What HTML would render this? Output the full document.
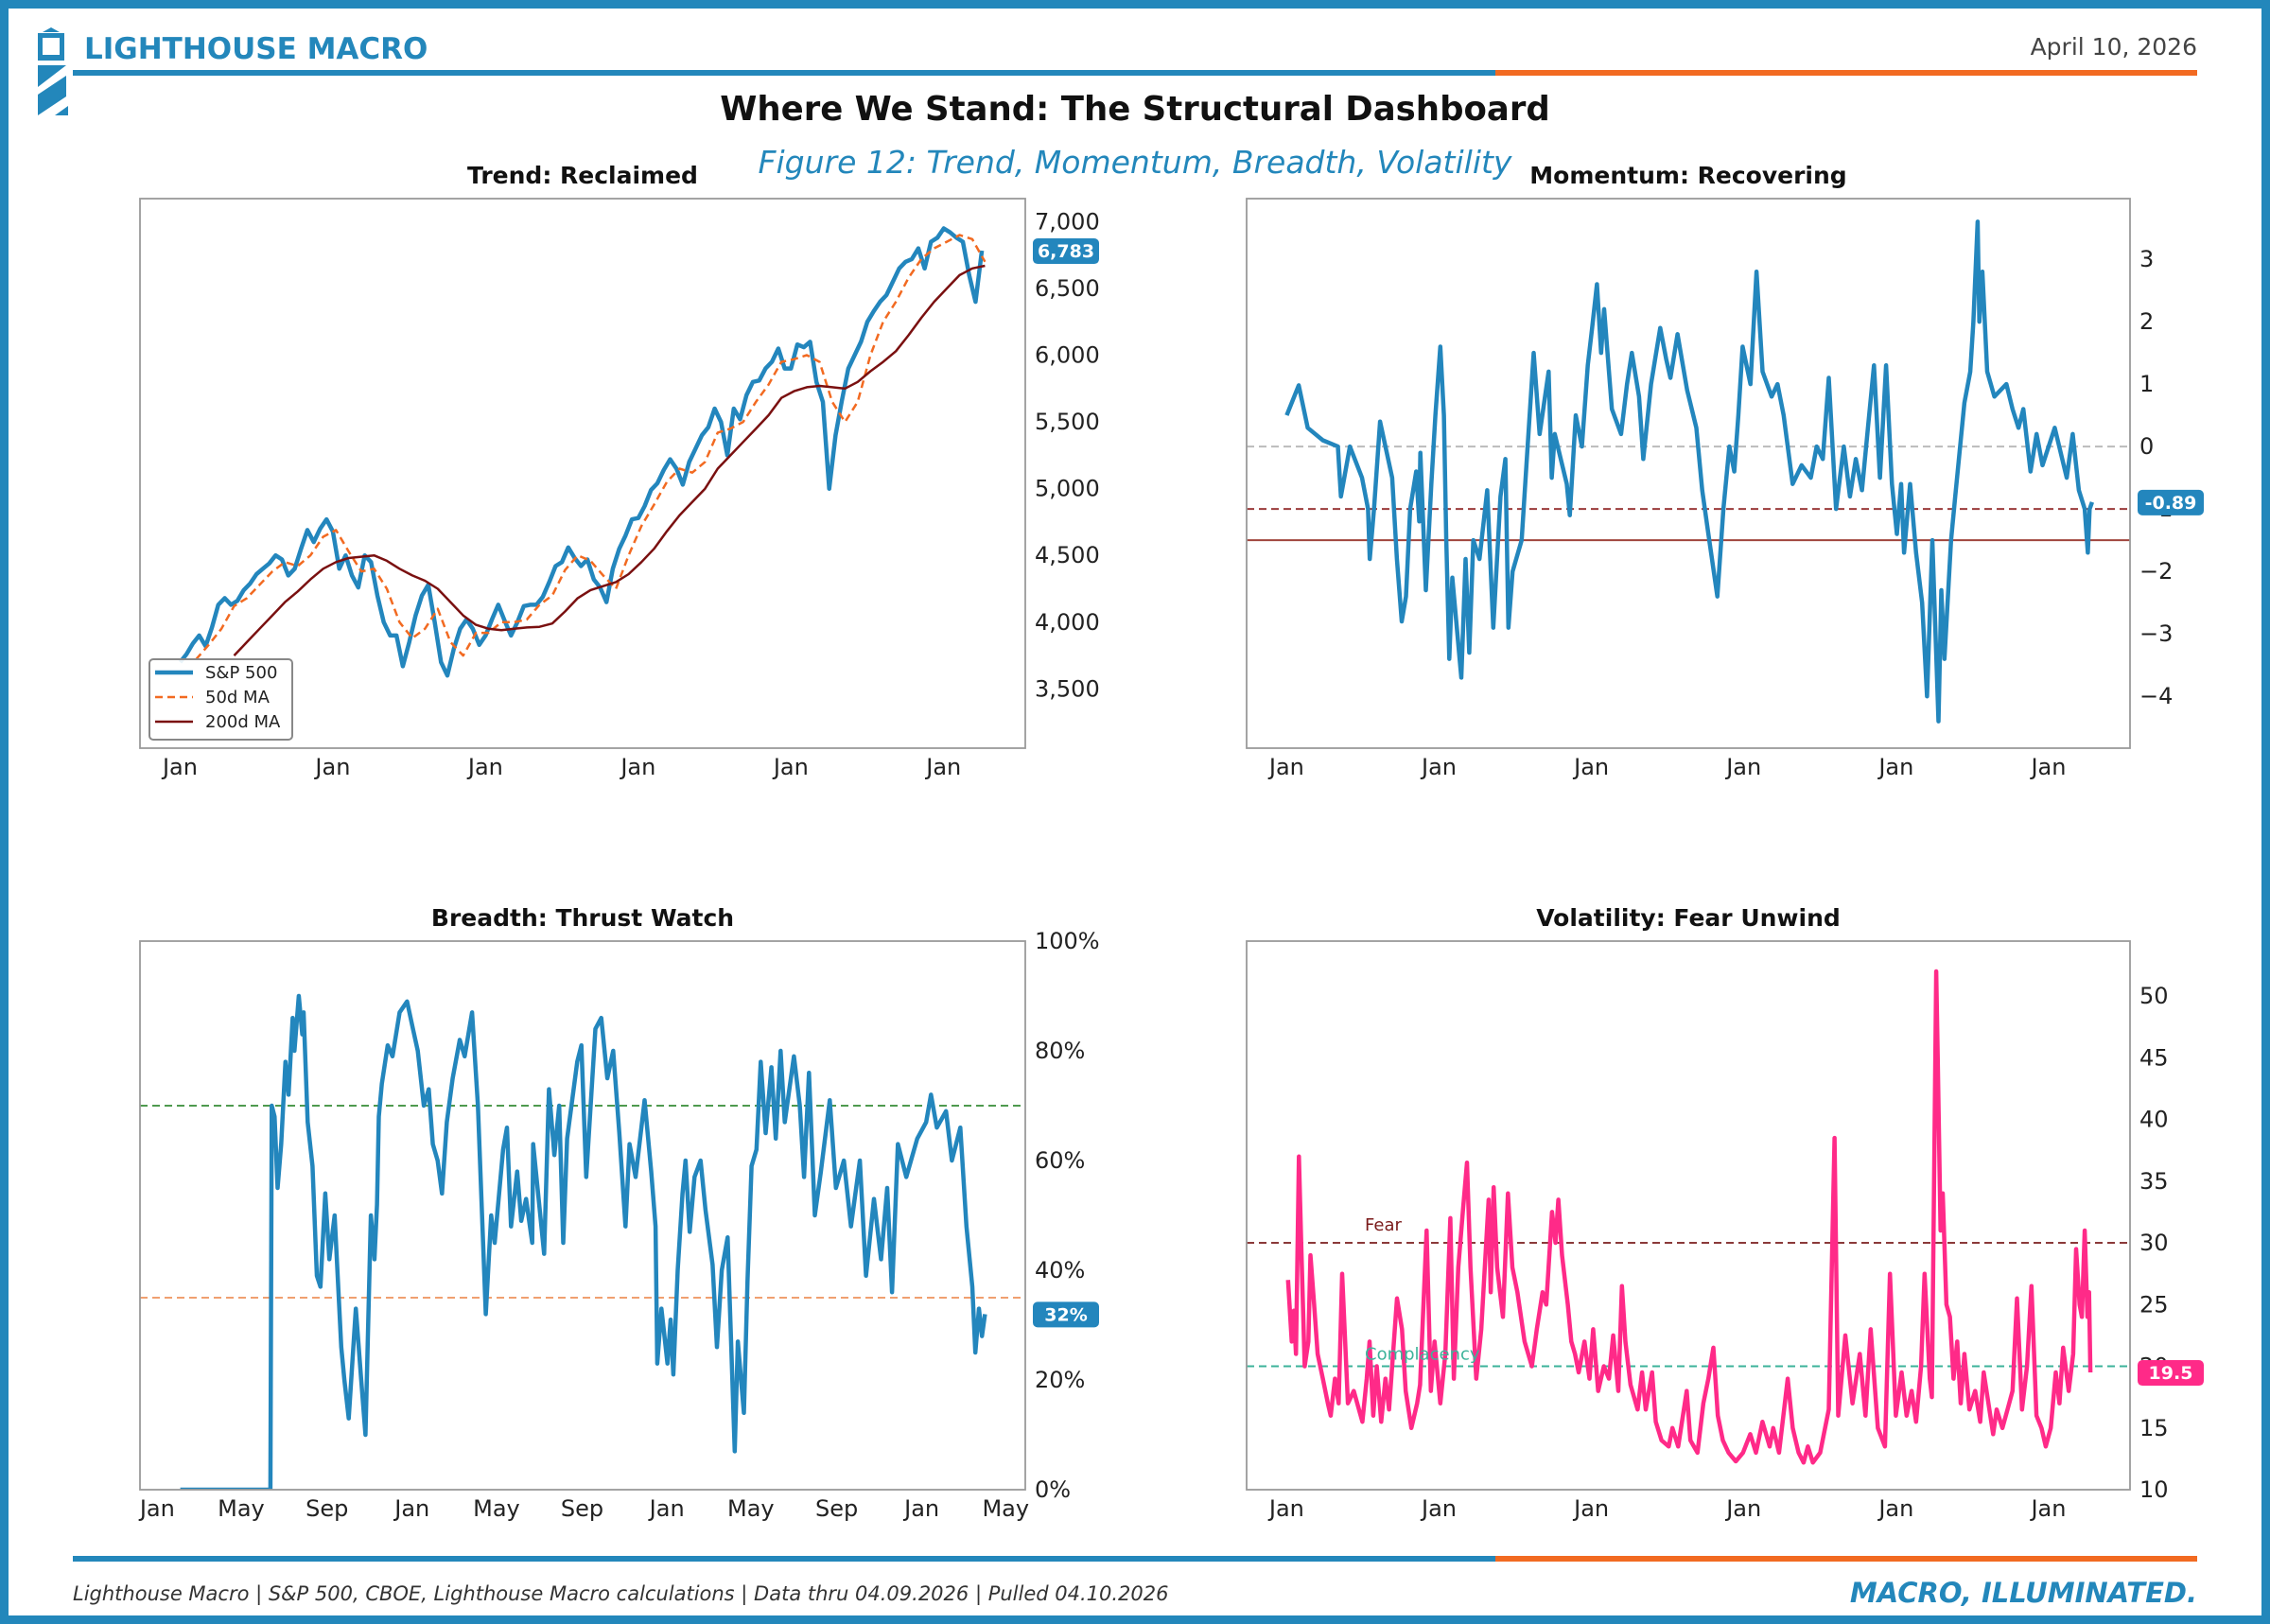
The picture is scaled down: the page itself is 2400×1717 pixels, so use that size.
<!DOCTYPE html>
<html><head><meta charset="utf-8"><style>
html,body{margin:0;padding:0;background:#fff;}
svg{display:block;font-family:"DejaVu Sans","Liberation Sans",sans-serif;}
</style></head><body>
<svg id="chart" width="2400" height="1717" viewBox="0 0 2400 1717" xmlns="http://www.w3.org/2000/svg">
<rect x="4.5" y="4.5" width="2391" height="1708" fill="#fff" stroke="#2387bb" stroke-width="9"/>
<g fill="#2387bb">
<polygon points="45,34 54,29 63,34"/><rect x="40" y="35" width="28" height="5"/>
<rect x="40" y="40" width="5" height="20"/><rect x="63" y="40" width="5" height="20"/><rect x="40" y="58" width="28" height="6"/>
<polygon points="40,69 70,69 40,92"/><polygon points="40,100 70,80 70,102 40,122 40,110"/><polygon points="58,122 72,112 72,122"/>
</g>
<text x="89" y="62" font-size="31" font-weight="bold" fill="#2387bb">LIGHTHOUSE MACRO</text>
<text x="2323" y="58" font-size="25" fill="#444" text-anchor="end">April 10, 2026</text>
<rect x="77" y="74" width="1504" height="6" fill="#2387bb"/>
<rect x="1581" y="74" width="742" height="6" fill="#f26a21"/>
<text x="1200" y="127" font-size="35.5" font-weight="bold" fill="#111" text-anchor="middle">Where We Stand: The Structural Dashboard</text>
<text x="1200" y="183" font-size="33" font-style="italic" fill="#2387bb" text-anchor="middle">Figure 12: Trend, Momentum, Breadth, Volatility</text>
<rect x="77" y="1645" width="1504" height="6" fill="#2387bb"/>
<rect x="1581" y="1645" width="742" height="6" fill="#f26a21"/>
<text x="77" y="1692" font-size="21" font-style="italic" fill="#333">Lighthouse Macro | S&amp;P 500, CBOE, Lighthouse Macro calculations | Data thru 04.09.2026 | Pulled 04.10.2026</text>
<text x="2323" y="1694" font-size="29" font-weight="bold" font-style="italic" fill="#2387bb" text-anchor="end">MACRO, ILLUMINATED.</text>
<g id="panels"></g>
</svg>
<script>
// ---------- Trend data ----------
const spStart = 2021.0;
const spStep = 1/24;
const spValues = [3700,3760,3840,3900,3820,3960,4130,4180,4130,4160,4240,4290,4360,4400,4440,4500,4470,4350,4400,4550,4690,4600,4700,4770,
4680,4400,4500,4350,4260,4500,4450,4200,4000,3900,3900,3670,3850,4050,4200,4280,4000,3700,3600,3800,3950,4020,3950,3830,
3900,4020,4130,4010,3900,4000,4120,4130,4130,4190,4300,4420,4450,4560,4480,4420,4470,4320,4260,4150,4400,4550,4650,4770,
4780,4870,4990,5040,5140,5220,5150,5030,5200,5300,5400,5460,5600,5500,5250,5600,5520,5700,5800,5810,5900,5950,6050,5900,
5900,6080,6060,6100,5800,5650,5000,5400,5660,5900,6000,6100,6250,6330,6400,6450,6550,6650,6700,6720,6800,6650,6850,6880,
6950,6920,6880,6850,6600,6400,6783];
const maStart = 2021.02;
const maStep = 1/12;
const ma50Values = [null,3720,3830,3950,4120,4180,4280,4380,4450,4420,4500,4640,
4690,4530,4380,4400,4250,4000,3880,3950,4100,3850,3750,3920,
3920,4000,4000,4020,4130,4200,4390,4500,4460,4350,4250,4500,
4720,4880,5050,5150,5120,5200,5420,5450,5500,5650,5780,5950,
5970,6000,5950,5650,5500,5650,6000,6250,6400,6580,6720,6800,
6850,6900,6870,6700];
const ma200Values = [null,null,null,null,3750,3850,3950,4050,4150,4230,4320,4400,
4450,4480,4490,4500,4460,4400,4350,4310,4250,4150,4050,3980,
3950,3940,3950,3960,3965,3990,4080,4180,4240,4270,4300,4360,
4450,4550,4680,4800,4900,5000,5150,5250,5350,5450,5550,5680,
5730,5760,5770,5760,5750,5800,5880,5950,6030,6150,6280,6400,
6500,6600,6650,6670];
const trendTicks = [3500,4000,4500,5000,5500,6000,6500,7000];
const trendTickLabels = ["3,500","4,000","4,500","5,000","5,500","6,000","6,500","7,000"];

// ---------- Momentum data ----------
const momDates = [2021.000,2021.079,2021.138,2021.237,2021.336,2021.356,2021.415,2021.494,2021.534,2021.545,2021.573,2021.613,2021.692,2021.723,2021.755,2021.783,2021.810,2021.850,2021.870,2021.877,2021.913,2021.949,2021.976,
2022.008,2022.032,2022.047,2022.067,2022.087,2022.146,2022.174,2022.198,2022.225,2022.265,2022.316,2022.356,2022.403,2022.435,2022.455,2022.482,2022.542,2022.581,2022.621,2022.660,2022.719,2022.739,2022.759,2022.838,2022.858,2022.897,2022.937,2022.976,
2023.004,2023.036,2023.063,2023.083,2023.115,2023.134,2023.194,2023.233,2023.265,2023.312,2023.340,2023.391,2023.451,2023.490,2023.518,2023.565,2023.628,2023.688,2023.727,2023.767,2023.826,2023.866,2023.905,2023.937,2023.964,2023.992,
2024.043,2024.083,2024.123,2024.182,2024.221,2024.261,2024.320,2024.379,2024.439,2024.478,2024.518,2024.557,2024.605,2024.656,2024.696,2024.735,2024.775,2024.814,2024.854,2024.893,2024.933,2024.972,
2025.004,2025.032,2025.051,2025.091,2025.130,2025.170,2025.202,2025.237,2025.277,2025.296,2025.316,2025.360,2025.387,2025.447,2025.486,2025.506,2025.534,2025.545,2025.565,2025.597,2025.644,2025.723,2025.763,2025.802,2025.834,2025.881,2025.921,2025.960,
2026.040,2026.119,2026.158,2026.198,2026.237,2026.257,2026.269,2026.285];
const momValues = [0.5,0.98,0.3,0.1,0.0,-0.8,0.0,-0.5,-1.0,-1.8,-1.0,0.4,-0.5,-1.8,-2.8,-2.4,-1.0,-0.4,-1.2,-0.1,-2.3,-0.6,0.5,
1.6,0.5,-1.5,-3.4,-2.1,-3.7,-1.8,-3.3,-1.5,-1.8,-0.7,-2.9,-0.8,-0.2,-2.9,-2.0,-1.5,0.0,1.5,0.2,1.2,-0.5,0.2,-0.6,-1.1,0.5,0.0,1.3,
1.9,2.6,1.5,2.2,1.2,0.6,0.2,1.0,1.5,0.8,-0.2,1.0,1.9,1.4,1.1,1.8,0.9,0.3,-0.7,-1.4,-2.4,-1.0,0.0,-0.4,0.5,1.6,
1.0,2.8,1.2,0.8,1.0,0.5,-0.6,-0.3,-0.5,0.0,-0.2,1.1,-1.0,0.0,-0.8,-0.2,-0.7,0.3,1.3,-0.5,1.3,-0.6,
-1.4,-0.6,-1.7,-0.6,-1.7,-2.5,-4.0,-1.5,-4.4,-2.3,-3.4,-1.5,-0.8,0.7,1.2,2.0,3.6,2.0,2.8,1.2,0.8,1.0,0.6,0.3,0.6,-0.4,0.2,-0.3,
0.3,-0.5,0.2,-0.7,-1.0,-1.7,-1.0,-0.89];
const momTicks = [-4,-3,-2,-1,0,1,2,3];
const momTickLabels = ["\u22124","\u22123","\u22122","\u22121","0","1","2","3"];

// ---------- Breadth data ----------
const brDates = [2023.090,2023.444,2023.449,2023.460,2023.472,2023.486,2023.503,2023.515,2023.531,2023.538,2023.555,2023.569,2023.574,2023.590,2023.609,2023.626,2023.640,2023.659,2023.675,2023.696,2023.722,2023.734,2023.751,2023.779,2023.800,2023.817,2023.838,2023.852,2023.862,2023.869,2023.881,2023.904,2023.923,2023.951,2023.980,
2024.003,2024.022,2024.046,2024.065,2024.081,2024.100,2024.117,2024.136,2024.159,2024.187,2024.206,2024.235,2024.258,2024.289,2024.310,2024.324,2024.357,2024.372,2024.388,2024.412,2024.428,2024.447,2024.471,2024.475,2024.518,2024.537,2024.558,2024.577,2024.593,2024.608,2024.648,2024.664,2024.683,2024.719,2024.742,2024.766,2024.789,2024.813,2024.837,2024.853,2024.877,2024.912,2024.938,2024.955,2024.962,2024.978,
2025.002,2025.014,2025.025,2025.042,2025.061,2025.073,2025.089,2025.108,2025.132,2025.151,2025.179,2025.196,2025.215,2025.238,2025.266,2025.278,2025.302,2025.316,2025.332,2025.351,2025.368,2025.387,2025.410,2025.427,2025.446,2025.462,2025.498,2025.521,2025.538,2025.557,2025.580,2025.604,2025.639,2025.663,2025.694,2025.722,2025.757,2025.781,2025.812,2025.840,2025.864,2025.883,2025.906,2025.939,2025.982,
2026.017,2026.036,2026.059,2026.095,2026.118,2026.151,2026.175,2026.198,2026.210,2026.224,2026.236,2026.248];
const brValues = [0,0,70,68,55,63,78,72,86,80,90,83,87,67,59,39,37,54,42,50,26,20,13,33,20,10,50,42,52,68,74,81,79,87,89,
84,80,70,73,63,60,54,67,75,82,79,87,70,32,50,45,62,66,48,58,49,53,45,63,43,73,61,70,45,64,78,81,57,84,86,75,80,65,48,63,57,71,58,48,23,33,
23,31,21,40,54,60,47,57,60,51,41,26,40,46,7,27,14,38,59,62,78,65,77,64,80,67,79,70,57,76,50,58,71,55,60,48,60,39,53,42,55,36,63,57,64,
67,72,66,69,60,66,48,37,25,33,28,32];
const brTicks = [0,20,40,60,80,100];
const brTickLabels = ["0%","20%","40%","60%","80%","100%"];
const brXTicks = [2023.0,2023.329,2023.666,2024.0,2024.331,2024.667,2025.0,2025.329,2025.666,2026.0,2026.329];
const brXTickLabels = ["Jan","May","Sep","Jan","May","Sep","Jan","May","Sep","Jan","May"];

// ---------- Volatility data ----------
const vixDates = [2021.009,2021.033,2021.047,2021.061,2021.080,2021.095,2021.118,2021.142,2021.156,2021.180,2021.203,2021.237,2021.270,2021.289,2021.317,2021.341,2021.364,2021.402,2021.440,2021.497,2021.525,2021.544,2021.568,2021.591,2021.620,2021.648,2021.672,2021.724,2021.757,2021.781,2021.818,2021.856,2021.875,2021.918,2021.946,2021.970,
2022.008,2022.041,2022.074,2022.097,2022.126,2022.159,2022.183,2022.206,2022.244,2022.277,2022.325,2022.339,2022.358,2022.381,2022.419,2022.452,2022.481,2022.514,2022.561,2022.609,2022.641,2022.679,2022.703,2022.741,2022.764,2022.783,2022.807,2022.845,2022.868,2022.892,2022.916,2022.954,2022.987,
2023.011,2023.044,2023.081,2023.115,2023.143,2023.176,2023.200,2023.223,2023.256,2023.303,2023.332,2023.356,2023.398,2023.422,2023.460,2023.507,2023.531,2023.569,2023.625,2023.649,2023.696,2023.734,2023.767,2023.800,2023.829,2023.862,2023.900,2023.947,2023.994,
2024.042,2024.079,2024.122,2024.169,2024.193,2024.231,2024.288,2024.321,2024.359,2024.392,2024.420,2024.453,2024.501,2024.557,2024.595,2024.619,2024.666,2024.713,2024.761,2024.798,2024.832,2024.879,2024.926,2024.959,2024.997,
2025.035,2025.068,2025.101,2025.130,2025.163,2025.186,2025.220,2025.234,2025.262,2025.272,2025.291,2025.305,2025.329,2025.352,2025.376,2025.400,2025.423,2025.447,2025.480,2025.518,2025.551,2025.574,2025.636,2025.659,2025.697,2025.730,2025.763,2025.792,2025.825,2025.858,2025.887,2025.920,2025.953,2025.981,
2026.014,2026.047,2026.071,2026.095,2026.132,2026.161,2026.180,2026.203,2026.218,2026.237,2026.255,2026.265,2026.274];
const vixValues = [27,22,24.5,21,37,30,20,22,29,25,21,19,17,16,19,17,27.5,17,18,15.5,19,22,16,20,15.5,19,16.5,25.5,23,18,15,17,18.5,31,18,22,
17,21,32,19,28,33,36.5,28,19,23,33.5,26,34.5,28,24,34,28,26,22,20,23,26,25,32.5,30,33.5,29,25,22,21,19.5,22,19,
23,18,20,19,22.5,18,26.5,22,18.5,16.5,19.5,16.5,19.5,15.5,14,13.5,15,13.5,18,14,13,17,19,21.5,16,14,13,12.3,13,
14.5,13,15.5,13.5,15,13,19,15,13,12.2,13.5,12.2,13,16.5,38.5,16,22.5,17,21,16,23,15,13.5,27.5,16,
19.5,16,18,15.5,20,27.5,19,17.5,52,45,31,34,25,24,19,22,17,21,16.5,18,15.5,19.5,14.5,16.5,15,16.5,18,25.5,16.5,20,26.5,16,15,13.5,
15,19.5,17,21.5,18,21,29.5,25,24,31,24,26,19.5];
const vixTicks = [10,15,20,25,30,35,40,45,50];
const vixTickLabels = ["10","15","20","25","30","35","40","45","50"];

// shared x ticks for 5-year panels
const yearTicks = [2021,2022,2023,2024,2025,2026];
const yearTickLabels = ["Jan","Jan","Jan","Jan","Jan","Jan"];

const NS = "http://www.w3.org/2000/svg";
const root = document.getElementById("panels");
function mk(tag, attrs, parent){
  const el = document.createElementNS(NS, tag);
  for (const k in attrs) el.setAttribute(k, attrs[k]);
  (parent||root).appendChild(el);
  return el;
}
function scale(d0,d1,r0,r1){return v => r0 + (v-d0)/(d1-d0)*(r1-r0);}

function panel(cfg){
  const g = mk("g", {});
  
  
  const x = scale(cfg.xd[0], cfg.xd[1], cfg.L, cfg.R);
  const y = scale(cfg.yd[0], cfg.yd[1], cfg.B, cfg.T);
  const t = mk("text", {x:(cfg.L+cfg.R)/2, y:cfg.T-16, "font-size":25, "font-weight":"bold", "text-anchor":"middle", fill:"#111"}, g);
  t.textContent = cfg.title;
  
  
  const clipId = cfg.name + "-clip";
  const cp = mk("clipPath", {id:clipId}, g);
  mk("rect", {x:cfg.L, y:cfg.T, width:cfg.R-cfg.L, height:cfg.B-cfg.T}, cp);
  const plot = mk("g", {"clip-path":"url(#"+clipId+")"}, g);
  (cfg.refs||[]).forEach(r => {
    const ln = mk("line", {x1:cfg.L, x2:cfg.R, y1:y(r.v), y2:y(r.v), stroke:r.c, "stroke-width":r.w||2, "stroke-dasharray":r.dash||"none"}, plot);
    
    
  });
  cfg.series.forEach(s => {
    let d = "", pen = false;
    for (let i=0;i<s.vals.length;i++){
      const v = s.vals[i];
      if (v===null){pen=false;continue;}
      const px = x(s.date(i)), py = y(v);
      d += (pen?"L":"M") + px.toFixed(1) + " " + py.toFixed(1);
      pen = true;
    }
    const p = mk("path", {d:d, fill:"none", stroke:s.c, "stroke-width":s.w, "stroke-dasharray":s.dash||"none", "stroke-linejoin":"round"}, plot);
    
    
  });
  const fr = mk("rect", {x:cfg.L, y:cfg.T, width:cfg.R-cfg.L, height:cfg.B-cfg.T, fill:"none", stroke:"#9a9a9a", "stroke-width":1.8}, g);
  
  
  cfg.yt.forEach((v,i) => {
    const tl = mk("text", {x:cfg.R+10, y:y(v)+8, "font-size":24, fill:"#222"}, g);
    tl.textContent = cfg.ytl[i];
    
    
  });
  cfg.xt.forEach((v,i) => {
    const tl = mk("text", {x:x(v), y:cfg.B+28, "font-size":24, fill:"#222", "text-anchor":"middle"}, g);
    tl.textContent = cfg.xtl[i];
    
    
  });
  if (cfg.badge){
    const by = y(cfg.badge.v);
    const br = mk("rect", {x:cfg.R+8, y:by-13, width:70, height:27, rx:5, fill:cfg.badge.c}, g);
    
    
    const bt = mk("text", {x:cfg.R+43, y:by+7, "font-size":19, "font-weight":"bold", fill:"#fff", "text-anchor":"middle"}, g);
    bt.textContent = cfg.badge.t;
    
    
  }
  return {g, x, y};
}

const fiveYr = [2020.737, 2026.534];
const BLUE = "#2386bd";

// Trend
const p1 = panel({name:"trend-panel", title:"Trend: Reclaimed", L:148, R:1084, T:210, B:791, xd:fiveYr, yd:[3056,7173],
  yt:trendTicks, ytl:trendTickLabels, xt:yearTicks, xtl:yearTickLabels,
  series:[
    {name:"sp500-line", vals:spValues, date:i=>spStart+i*spStep, c:BLUE, w:4.5},
    {name:"ma50-line", vals:ma50Values, date:i=>maStart+i*maStep, c:"#f26a21", w:2.5, dash:"8 5"},
    {name:"ma200-line", vals:ma200Values, date:i=>maStart+i*maStep, c:"#7a1010", w:2.5}
  ],
  badge:{v:spValues[spValues.length-1], t:"6,783", c:BLUE}});
// legend
const lg = mk("g", {});


mk("rect", {x:158, y:697, width:151, height:85, rx:4, fill:"#fff", "fill-opacity":0.9, stroke:"#888", "stroke-width":2}, lg);
[["S&P 500",BLUE,4.5,"none"],["50d MA","#f26a21",2.5,"8 5"],["200d MA","#7a1010",2.5,"none"]].forEach((e,i)=>{
  const yy = 711 + i*26;
  const l = mk("line", {x1:164, x2:204, y1:yy, y2:yy, stroke:e[1], "stroke-width":e[2], "stroke-dasharray":e[3]}, lg);
  
  
  const tx = mk("text", {x:217, y:yy+6, "font-size":18, fill:"#222"}, lg);
  tx.textContent = e[0];
  
  
});

// Momentum
panel({name:"momentum-panel", title:"Momentum: Recovering", L:1318, R:2252, T:210, B:791, xd:fiveYr, yd:[-4.83,3.97],
  yt:momTicks, ytl:momTickLabels, xt:yearTicks, xtl:yearTickLabels,
  refs:[{name:"zero-line", v:0, c:"#bbbbbb", dash:"8 5"},{name:"weak-threshold", v:-1, c:"#9b3b3b", dash:"8 5"},{name:"oversold-line", v:-1.5, c:"#a0443c", w:2}],
  series:[{name:"momentum-line", vals:momValues, date:i=>momDates[i], c:BLUE, w:4.5}],
  badge:{v:momValues[momValues.length-1], t:"-0.89", c:BLUE}});

// Breadth
panel({name:"breadth-panel", title:"Breadth: Thrust Watch", L:148, R:1084, T:995, B:1575, xd:[2022.932,2026.406], yd:[0,100],
  yt:brTicks, ytl:brTickLabels, xt:brXTicks, xtl:brXTickLabels,
  refs:[{name:"thrust-line", v:70, c:"#4f9a4f", dash:"8 5"},{name:"washout-line", v:35, c:"#f0a070", dash:"8 5"}],
  series:[{name:"breadth-line", vals:brValues, date:i=>brDates[i], c:BLUE, w:4.5}],
  badge:{v:brValues[brValues.length-1], t:"32%", c:BLUE}});

// Volatility
const p4 = panel({name:"volatility-panel", title:"Volatility: Fear Unwind", L:1318, R:2252, T:995, B:1575, xd:fiveYr, yd:[10,54.45],
  yt:vixTicks, ytl:vixTickLabels, xt:yearTicks, xtl:yearTickLabels,
  refs:[{name:"fear-line", v:30, c:"#8b3a3a", dash:"8 5"},{name:"complacency-line", v:20, c:"#3cb39a", dash:"8 5"}],
  series:[{name:"vix-line", vals:vixValues, date:i=>vixDates[i], c:"#ff2a88", w:4.5}],
  badge:{v:vixValues[vixValues.length-1], t:"19.5", c:"#ff2a88"}});
const fl = mk("text", {x:1443, y:p4.y(30)-13, "font-size":18, fill:"#7a1a1a"});
fl.textContent = "Fear";


const cl = mk("text", {x:1443, y:p4.y(20)-7, "font-size":18, fill:"#3cb39a"});
cl.textContent = "Complacency";


</script>
</body></html>
